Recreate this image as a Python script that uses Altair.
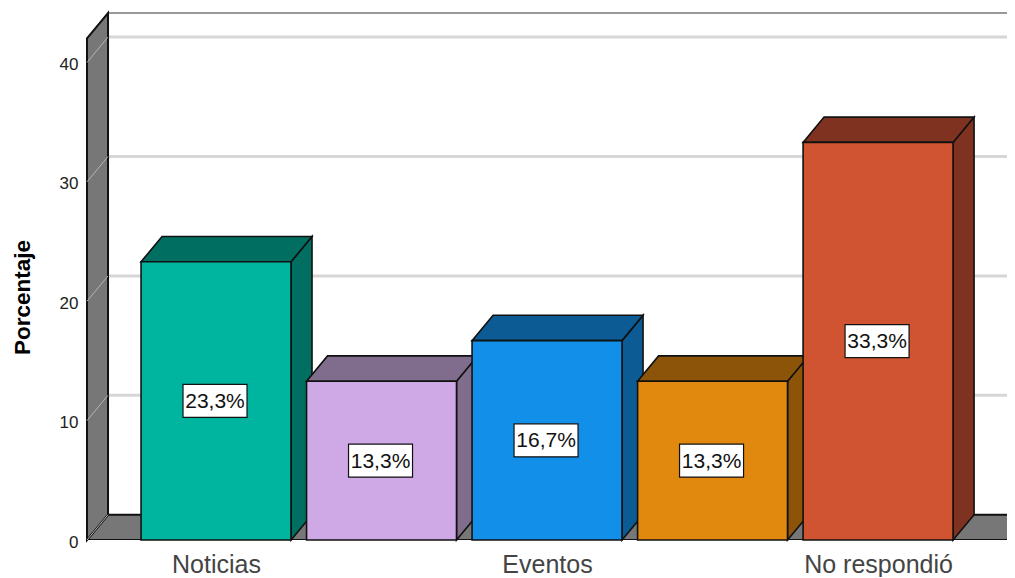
import altair as alt
import pandas as pd

# Chart values
categories = ["Noticias", "", "Eventos", "", "No respondió"]
values = [23.3, 13.3, 16.7, 13.3, 33.3]
labels = ["23,3%", "13,3%", "16,7%", "13,3%", "33,3%"]
front_colors = ["#00B5A0", "#CFA9E5", "#118FE9", "#E1880F", "#D05431"]
shade_colors = ["#006F62", "#806C8C", "#0C5B94", "#8B5408", "#803220"]
y_ticks = [0, 10, 20, 30, 40]
x_ticks = [0, 2, 4]

# Scale layout (x in category slots, y in percent)
x_min, x_max = -0.7795, 4.779
y_min, y_max = 0, 44.14
half = 0.453
dx = 0.127
dy = 2.12
floor_end = 4.779
W, H = 920, 527

X = alt.Scale(domain=[x_min, x_max], nice=False, zero=False)
Y = alt.Scale(domain=[y_min, y_max], nice=False, zero=False)
EDGE = "#111111"
WALL = "#777777"
FONT = "Liberation Sans"

label_expr = "[" + ",".join("'%s'" % c for c in categories) + "][datum.value]"
X_AXIS = alt.Axis(values=x_ticks, labelExpr=label_expr, domain=False, ticks=False, grid=False,
                  labelFont=FONT, labelFontSize=25, labelColor="#444444", labelPadding=12,
                  labelAngle=0, labelOverlap=False, title=None)
Y_AXIS = alt.Axis(values=y_ticks, domain=False, ticks=False, grid=False,
                  labelFont=FONT, labelFontSize=17, labelColor="#222222", labelPadding=9,
                  labelOffset=2,
                  title="Porcentaje",
                  titleFont=FONT, titleFontSize=22.5, titleFontWeight="bold", titleColor="#000000",
                  titleX=-53, titleY=284)


def xc():
    return alt.X("x:Q", scale=X, axis=X_AXIS)


def yc():
    return alt.Y("y:Q", scale=Y, axis=Y_AXIS)


def face(rows, color, clip=False, width=1.6):
    df = pd.DataFrame(rows, columns=["x", "y", "y2"])
    return alt.Chart(df).mark_area(
        color=color, stroke=EDGE, strokeWidth=width, opacity=1, clip=clip, interpolate="linear"
    ).encode(xc(), yc(), y2="y2:Q")


grid = alt.Chart(pd.DataFrame({"y": [t + dy for t in y_ticks[1:]]})).mark_rule(
    color="#D6D6D6", strokeWidth=3).encode(
    x=alt.value(21), x2=alt.value(W), y=yc())

top_line = alt.Chart(pd.DataFrame({"y": [y_max]})).mark_rule(color="#777777", strokeWidth=1.5).encode(
    x=alt.value(21), x2=alt.value(W), y=yc())

wall = face([(x_min, 0, y_max - dy), (x_min + dx, dy, y_max)], WALL, width=2)
floor = face([(x_min, 0, 0), (x_min + dx, 0, dy), (floor_end, 0, dy), (floor_end + dx, dy, dy)], WALL, clip=True, width=2)

diag_rows = []
for t in y_ticks:
    diag_rows += [{"x": x_min, "y": t, "t": t}, {"x": x_min + dx, "y": t + dy, "t": t}]
diagonals = alt.Chart(pd.DataFrame(diag_rows)).mark_line(color="#B5B5B5", strokeWidth=1).encode(
    xc(), yc(), detail="t:N")

layers = [grid, top_line, floor, wall, diagonals]

for i, v in enumerate(values):
    a, b = i - half, i + half
    layers.append(face([(b, 0, v), (b + dx, dy, v + dy)], shade_colors[i]))
    layers.append(face([(a, v, v), (a + dx, v, v + dy), (b, v, v + dy), (b + dx, v + dy, v + dy)], shade_colors[i]))
    front = pd.DataFrame({"x": [a], "x2": [b], "y": [0], "y2": [v]})
    layers.append(alt.Chart(front).mark_rect(
        color=front_colors[i], stroke=EDGE, strokeWidth=1.6, opacity=1).encode(
        xc(), x2="x2:Q", y=yc(), y2="y2:Q"))

box = pd.DataFrame({"x": list(range(5)), "y": [v / 2 for v in values], "t": labels})
layers.append(alt.Chart(box).mark_rect(
    width=64, height=33, xOffset=-1, color="white", stroke="#111111", strokeWidth=1.2, opacity=1).encode(xc(), yc()))
layers.append(alt.Chart(box).mark_text(
    font=FONT, fontSize=21, color="#111111", align="center", baseline="middle", dx=-1, dy=1).encode(
    xc(), yc(), text="t:N"))

chart = alt.layer(*layers).properties(
    width=W, height=H,
    autosize=alt.AutoSizeParams(type="none"),
    padding={"left": 79, "top": 5, "right": 0, "bottom": 37},
    background="white",
).configure_view(stroke=None)

chart.save("out.html", embed_options={"renderer": "svg", "actions": False})
